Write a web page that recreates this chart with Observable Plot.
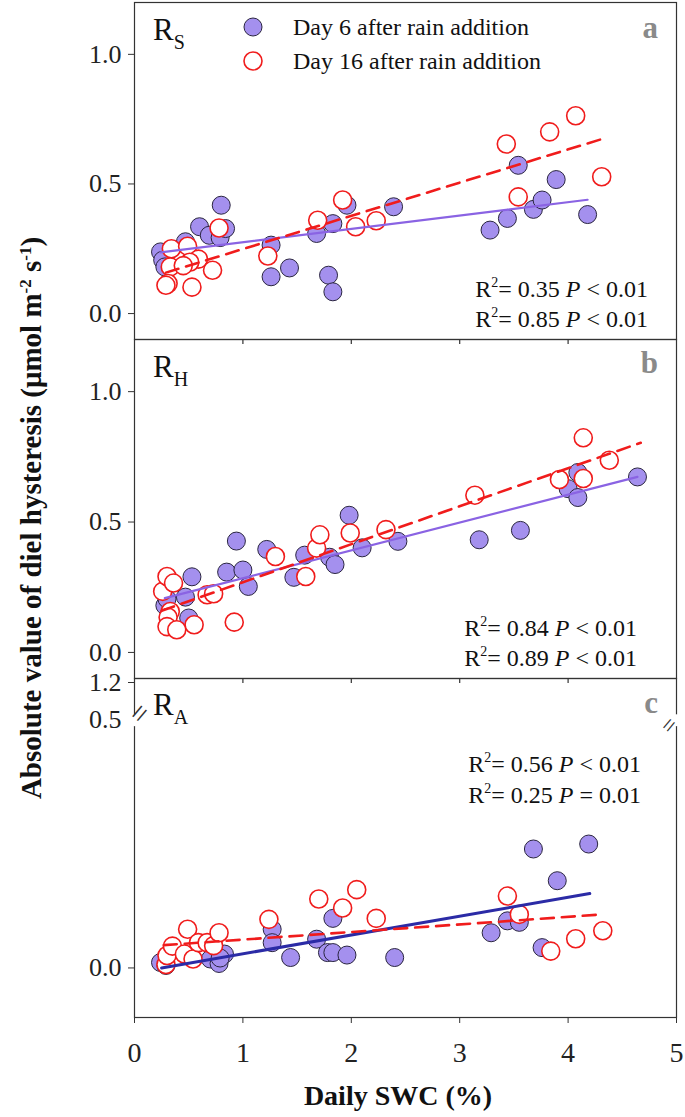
<!DOCTYPE html>
<html><head><meta charset="utf-8">
<script src="https://cdn.jsdelivr.net/npm/d3@7"></script>
<script src="https://cdn.jsdelivr.net/npm/@observablehq/plot@0.6"></script>
<style>
body{margin:0;background:#fff;}
#wrap{position:relative;width:685px;height:1117px;overflow:hidden;background:#fff;}
#wrap>svg{position:absolute;left:0;}
</style></head><body><div id="wrap"></div>
<script>
// ---------- data ----------
const xTicks = [0, 1, 2, 3, 4, 5];
const xInnerTicks = [1, 2, 3, 4];
const yTicksAB = [0, 0.5, 1.0];
const yTicksCLabels = ["0.0", "0.5", "1.2"];

// Panel a: R_S
const swcA6 = [0.24,0.26,0.28,0.47,0.60,0.69,0.79,0.84,0.80,1.26,1.26,1.43,1.68,1.83,1.96,1.79,1.83,2.39,3.28,3.44,3.54,3.68,3.76,3.89,4.18];
const rsA6  = [0.238,0.206,0.180,0.277,0.335,0.302,0.293,0.328,0.418,0.264,0.142,0.176,0.309,0.347,0.418,0.148,0.084,0.412,0.322,0.367,0.572,0.402,0.438,0.517,0.382];
const swcA16 = [0.34,0.49,0.59,0.51,0.33,0.45,0.72,0.31,0.29,0.53,0.78,1.23,1.69,1.92,2.04,2.23,3.43,3.54,3.83,4.07,4.31];
const rsA16  = [0.250,0.260,0.210,0.198,0.180,0.185,0.167,0.116,0.109,0.102,0.330,0.222,0.360,0.438,0.335,0.358,0.654,0.450,0.701,0.763,0.528];
const fitA6x = [0.24, 4.18], fitA6y = [0.236, 0.439];
const fitA16x = [0.29, 4.31], fitA16y = [0.158, 0.673];

// Panel b: R_H
const swcB6 = [0.28,0.30,0.47,0.53,0.50,0.85,0.94,1.00,1.05,1.22,1.47,1.57,1.80,1.85,1.98,2.10,2.43,3.18,3.56,4.00,4.09,4.09,4.64];
const rhB6  = [0.180,0.205,0.212,0.290,0.132,0.308,0.427,0.316,0.253,0.395,0.288,0.373,0.365,0.337,0.526,0.401,0.426,0.432,0.468,0.628,0.690,0.594,0.673];
const swcB16 = [0.26,0.30,0.36,0.33,0.31,0.30,0.39,0.55,0.67,0.73,0.92,1.30,1.58,1.68,1.71,1.99,2.32,3.14,3.92,4.14,4.14,4.38];
const rhB16  = [0.234,0.291,0.266,0.157,0.135,0.099,0.087,0.106,0.221,0.225,0.116,0.368,0.291,0.400,0.451,0.458,0.471,0.603,0.663,0.823,0.667,0.737];
const fitB6x = [0.28, 4.64], fitB6y = [0.208, 0.673];
const fitB16x = [0.25, 4.67], fitB16y = [0.160, 0.804];

// Panel c: R_A
const swcC6 = [0.24,0.29,0.70,0.78,0.83,0.79,1.27,1.27,1.44,1.68,1.78,1.83,1.96,1.83,2.40,3.29,3.44,3.55,3.68,3.76,3.90,4.19];
const raC6  = [0.011,0.005,0.018,0.009,0.028,0.020,0.078,0.051,0.021,0.058,0.031,0.031,0.026,0.100,0.021,0.071,0.095,0.092,0.240,0.041,0.176,0.250];
const swcC16 = [0.29,0.30,0.35,0.46,0.49,0.54,0.59,0.67,0.73,0.78,1.24,1.70,1.92,2.05,2.23,3.44,3.55,3.84,4.07,4.32];
const raC16  = [0.007,0.025,0.044,0.028,0.078,0.018,0.051,0.051,0.045,0.071,0.098,0.139,0.121,0.158,0.100,0.145,0.108,0.034,0.059,0.075];
const fitC6x = [0.25, 4.20], fitC6y = [0.000, 0.150];
const fitC16x = [0.27, 4.32], fitC16y = [0.046, 0.108];

const legendLabels = ["Day 6 after rain addition", "Day 16 after rain addition"];
const panelLetters = ["a", "b", "c"];
const panelSubs = ["S", "H", "A"];
const r2Vals = [["0.35","0.85"],["0.84","0.89"],["0.56","0.25"]];
const pOps = [["<","<"],["<","<"],["<","="]];
const pVals = [["0.01","0.01"],["0.01","0.01"],["0.01","0.01"]];

// ---------- styles ----------
const PURPLE_FILL = "#a490ee", DOT_STROKE = "#2a2540";
const RED = "#f01c1c";
const LINE_AB = "#8a63e3", LINE_C = "#2b2ba6";
const FONT = "'Liberation Serif', 'Times New Roman', serif";
const W = 685, ML = 134, MR = 9;

const wrap = document.getElementById("wrap");

function seq(n){ return d3.range(n); }

function panel(o) {
  const frameH = o.height - o.mt - o.mb;
  const marks = [];
  marks.push(Plot.frame({stroke: "#333", strokeWidth: 1.2}));
  marks.push(...o.axes);
  if (o.innerTicks) marks.push(Plot.tickX(xInnerTicks, {x: d => d, stroke: "#333", strokeWidth: 1.2, insetBottom: frameH - 5}));
  marks.push(Plot.dot(seq(o.x6.length), {x: i => o.x6[i], y: i => o.y6[i], r: 9, fill: PURPLE_FILL, stroke: DOT_STROKE, strokeWidth: 1}));
  marks.push(Plot.dot(seq(o.x16.length), {x: i => o.x16[i], y: i => o.y16[i], r: 9, fill: "white", stroke: RED, strokeWidth: 1.6}));
  marks.push(Plot.line(seq(2), {x: i => o.f6x[i], y: i => o.f6y[i], stroke: o.lineColor, strokeWidth: o.lineWidth}));
  marks.push(Plot.line(seq(2), {x: i => o.f16x[i], y: i => o.f16y[i], stroke: RED, strokeWidth: 2.6, strokeDasharray: "13,8"}));
  if (o.extra) marks.push(...o.extra);
  const svg = Plot.plot({
    width: W, height: o.height,
    marginLeft: ML, marginRight: MR, marginTop: o.mt, marginBottom: o.mb,
    x: {domain: [0, 5], axis: null},
    y: {domain: o.yDomain, axis: null},
    style: {fontFamily: FONT, fontSize: "26px", color: "#222", background: "transparent", overflow: "visible"},
    marks
  });
  svg.style.top = o.top + "px";
  wrap.appendChild(svg);
}

const yAxisAB = Plot.axisY(yTicksAB, {tickSize: 6, tickPadding: 7, tickFormat: d => d.toFixed(1), label: null, stroke: "#333"});

panel({top: 0, height: 340, mt: 2, mb: 1, yDomain: [-0.1, 1.2], axes: [yAxisAB],
  x6: swcA6, y6: rsA6, x16: swcA16, y16: rsA16, f6x: fitA6x, f6y: fitA6y, f16x: fitA16x, f16y: fitA16y,
  lineColor: LINE_AB, lineWidth: 2.2, innerTicks: false});

panel({top: 339, height: 340, mt: 0, mb: 1, yDomain: [-0.1, 1.2], axes: [yAxisAB],
  x6: swcB6, y6: rhB6, x16: swcB16, y16: rhB16, f6x: fitB6x, f6y: fitB6y, f16x: fitB16x, f16y: fitB16y,
  lineColor: LINE_AB, lineWidth: 2.2, innerTicks: true});

const cTop = 0.584; // top of the lower (unbroken) part of panel c
panel({top: 678, height: 439, mt: 0, mb: 100, yDomain: [-0.1, cTop],
  axes: [
    Plot.axisY([0], {tickSize: 6, tickPadding: 7, tickFormat: () => yTicksCLabels[0], label: null, stroke: "#333"}),
    Plot.axisY([cTop], {tickSize: 6, tickPadding: 7, dy: 4, tickFormat: () => yTicksCLabels[2], label: null, stroke: "#333"}),
    Plot.axisY([0.5], {tickSize: 0, tickPadding: 13, tickFormat: () => yTicksCLabels[1], label: null}),
    Plot.axisX(xTicks, {tickSize: 6, tickPadding: 19, tickFormat: d => String(d), label: null, stroke: "#333", fontSize: 28})
  ],
  x6: swcC6, y6: raC6, x16: swcC16, y16: raC16, f6x: fitC6x, f6y: fitC6y, f16x: fitC16x, f16y: fitC16y,
  lineColor: LINE_C, lineWidth: 3, innerTicks: true,
  extra: [
    Plot.dot([0.5], {y: d => d, frameAnchor: "left", r: 6, fill: "white", stroke: null}),
    Plot.dot([0.5], {y: d => d, frameAnchor: "right", r: 6, fill: "white", stroke: null}),
    Plot.text([0.5], {y: d => d, frameAnchor: "left", text: () => "=", rotate: -50, fontSize: 30, fill: "#333"}),
    Plot.text([0.5], {y: d => d, frameAnchor: "right", dx: -3, text: () => "=", rotate: -50, fontSize: 24, fill: "#333"})
  ]});

// ---------- overlay text ----------
const ov = d3.select(wrap).append("svg")
  .attr("width", W).attr("height", 1117)
  .style("position", "absolute").style("top", "0px").style("left", "0px")
  .style("overflow", "visible")
  .attr("font-family", FONT).attr("fill", "#111");

// legend
const legY = [27, 61];
ov.append("circle").attr("cx", 253).attr("cy", legY[0]).attr("r", 9).attr("fill", PURPLE_FILL).attr("stroke", DOT_STROKE);
ov.append("circle").attr("cx", 253).attr("cy", legY[1]).attr("r", 9).attr("fill", "white").attr("stroke", RED).attr("stroke-width", 1.6);
legendLabels.forEach((t, i) => ov.append("text").attr("x", 293).attr("y", legY[i] + 8).attr("font-size", 24).text(t));

// panel names and letters
const nameBase = [40, 377, 715];
const letterBase = [38, 373, 713];
panelSubs.forEach((s, i) => {
  const t = ov.append("text").attr("x", 153).attr("y", nameBase[i]).attr("font-size", 31);
  t.append("tspan").text("R");
  t.append("tspan").attr("dy", 9).attr("font-size", 20).text(s);
  ov.append("text").attr("x", 658).attr("y", letterBase[i]).attr("text-anchor", "end")
    .attr("font-size", 31).attr("font-weight", "bold").attr("fill", "#8a8a8a").text(panelLetters[i]);
});

// R2 annotations
const r2Right = [648, 637, 641];
const r2Base = [[297, 327], [636, 666], [772, 803]];
r2Vals.forEach((pair, i) => pair.forEach((v, j) => {
  const t = ov.append("text").attr("x", r2Right[i]).attr("y", r2Base[i][j]).attr("text-anchor", "end").attr("font-size", 24);
  t.append("tspan").text("R");
  t.append("tspan").attr("dy", -10).attr("font-size", 14).text("2");
  t.append("tspan").attr("dy", 10).text("= " + v + " ");
  t.append("tspan").attr("font-style", "italic").text("P");
  t.append("tspan").text(" " + pOps[i][j] + " " + pVals[i][j]);
}));

// axis titles
const yt = ov.append("text").attr("transform", "translate(41,518) rotate(-90)")
  .attr("text-anchor", "middle").attr("font-size", 29).attr("font-weight", "bold");
yt.append("tspan").text("Absolute value of diel hysteresis (\u03bcmol m");
yt.append("tspan").attr("dy", -10).attr("font-size", 17).text("-2");
yt.append("tspan").attr("dy", 10).text(" s");
yt.append("tspan").attr("dy", -10).attr("font-size", 17).text("-1");
yt.append("tspan").attr("dy", 10).text(")");

ov.append("text").attr("x", 398).attr("y", 1105).attr("text-anchor", "middle")
  .attr("font-size", 28).attr("font-weight", "bold").text("Daily SWC (%)");
</script></body></html>
